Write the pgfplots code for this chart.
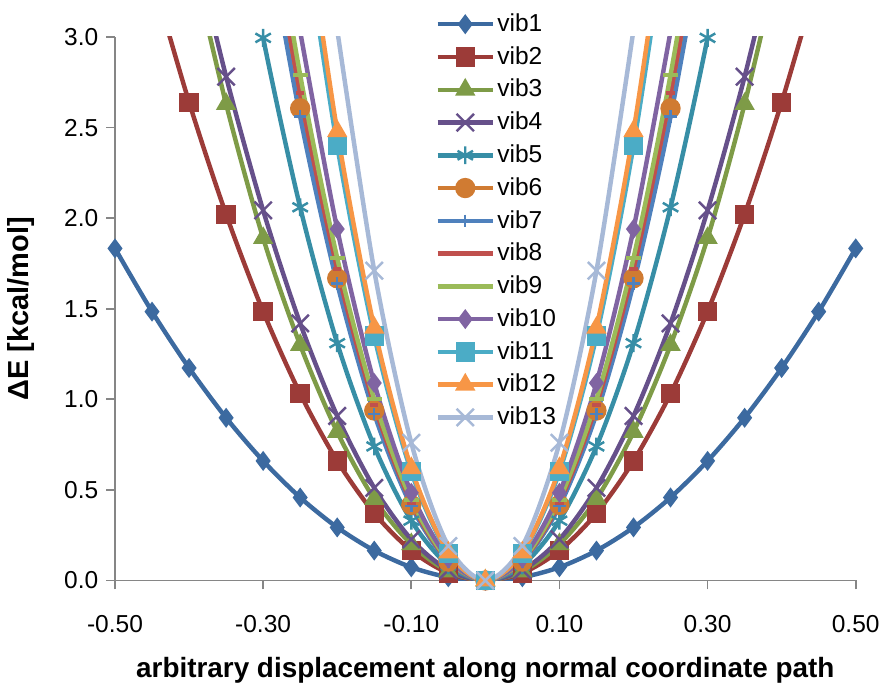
\documentclass[border=0pt]{standalone}
\usepackage{fontspec}
\setmainfont{Liberation Sans}
\usepackage{pgfplots}
\pgfplotsset{compat=1.18}

\definecolor{axgray}{HTML}{868686}
\definecolor{v1}{HTML}{3C6AA0}
\definecolor{v2}{HTML}{9C3B38}
\definecolor{v3}{HTML}{7E9B47}
\definecolor{v4}{HTML}{66508A}
\definecolor{v5}{HTML}{378EA6}
\definecolor{v6}{HTML}{D07B32}
\definecolor{v7}{HTML}{4F81BD}
\definecolor{v8}{HTML}{C0504D}
\definecolor{v9}{HTML}{9BBB59}
\definecolor{v10}{HTML}{8064A2}
\definecolor{v11}{HTML}{4BACC6}
\definecolor{v12}{HTML}{F79646}
\definecolor{v13}{HTML}{A7B9D7}

\pgfplotsset{
  vib/.style={color=#1, line width=2pt, smooth, mark options={solid, line width=1.1pt}},
}

\begin{document}
\begin{tikzpicture}
\begin{axis}[
    name=ax,
    scale only axis,
    width=11.68cm, height=8.57cm,
    xmin=-0.5, xmax=0.5, ymin=0, ymax=3,
    axis x line=bottom, axis y line=left,
    axis line style={draw=axgray, line width=0.8pt, -},
    tick style={draw=axgray, line width=0.8pt},
    tick align=outside, major tick length=4pt,
    xtick={-0.5,-0.3,-0.1,0.1,0.3,0.5},
    ytick={0,0.5,1,1.5,2,2.5,3},
    /pgf/number format/assume math mode=true,
    xticklabel style={font=\fontsize{11}{13}\selectfont, yshift=-8pt, /pgf/number format/.cd, fixed, fixed zerofill, precision=2},
    yticklabel style={font=\fontsize{11}{13}\selectfont, /pgf/number format/.cd, fixed, fixed zerofill, precision=1},
    xlabel={arbitrary displacement along normal coordinate path},
    ylabel={ΔE [kcal/mol]},
    every axis x label/.style={at={(axis description cs:0.5,-0.166)}, anchor=center, font=\bfseries\fontsize{12.5}{14}\selectfont},
    every axis y label/.style={at={(axis description cs:-0.127,0.5)}, anchor=center, rotate=90, font=\bfseries\fontsize{13}{15}\selectfont},
    legend style={at={(axis description cs:0.432,1.052)}, anchor=north west, draw=none, fill=none,
      inner sep=0pt, row sep=1.2pt, font=\fontsize{11}{13}\selectfont,
      nodes={inner sep=1pt, text height=9pt, text depth=2.5pt}},
    legend cell align=left,
    legend image code/.code={\draw[mark repeat=2, mark phase=2] plot coordinates {(0cm,0cm) (0.435cm,0cm) (0.87cm,0cm)};},
]
\addplot[vib=v1, mark=diamond*, mark size=3.6pt] coordinates {
(-0.50,1.833)(-0.45,1.484)(-0.40,1.173)(-0.35,0.898)(-0.30,0.660)(-0.25,0.458)(-0.20,0.293)(-0.15,0.165)(-0.10,0.073)(-0.05,0.018)(0,0)
(0.05,0.018)(0.10,0.073)(0.15,0.165)(0.20,0.293)(0.25,0.458)(0.30,0.660)(0.35,0.898)(0.40,1.173)(0.45,1.484)(0.50,1.833)};
\addlegendentry{vib1}
\addplot[vib=v2, mark=square*, mark size=3.8pt] coordinates {
(-0.45,3.341)(-0.40,2.640)(-0.35,2.021)(-0.30,1.485)(-0.25,1.031)(-0.20,0.660)(-0.15,0.371)(-0.10,0.165)(-0.05,0.041)(0,0)
(0.05,0.041)(0.10,0.165)(0.15,0.371)(0.20,0.660)(0.25,1.031)(0.30,1.485)(0.35,2.021)(0.40,2.640)(0.45,3.341)};
\addlegendentry{vib2}
\addplot[vib=v3, mark=triangle*, mark size=4.2pt] coordinates {
(-0.40,3.50)(-0.35,2.63)(-0.30,1.89)(-0.25,1.30)(-0.20,0.82)(-0.15,0.45)(-0.10,0.20)(-0.05,0.05)(0,0)
(0.05,0.05)(0.10,0.20)(0.15,0.45)(0.20,0.82)(0.25,1.30)(0.30,1.89)(0.35,2.63)(0.40,3.50)};
\addlegendentry{vib3}
\addplot[vib=v4, mark=x, mark size=5.5pt] coordinates {
(-0.40,3.632)(-0.35,2.781)(-0.30,2.043)(-0.25,1.419)(-0.20,0.908)(-0.15,0.511)(-0.10,0.227)(-0.05,0.057)(0,0)
(0.05,0.057)(0.10,0.227)(0.15,0.511)(0.20,0.908)(0.25,1.419)(0.30,2.043)(0.35,2.781)(0.40,3.632)};
\addlegendentry{vib4}
\addplot[vib=v5, mark=asterisk, mark size=4pt] coordinates {
(-0.35,4.08)(-0.30,2.995)(-0.25,2.06)(-0.20,1.31)(-0.15,0.74)(-0.10,0.33)(-0.05,0.083)(0,0)
(0.05,0.083)(0.10,0.33)(0.15,0.74)(0.20,1.31)(0.25,2.06)(0.30,2.995)(0.35,4.08)};
\addlegendentry{vib5}
\addplot[vib=v6, mark=*, mark size=4pt] coordinates {
(-0.30,3.753)(-0.25,2.606)(-0.20,1.668)(-0.15,0.938)(-0.10,0.417)(-0.05,0.104)(0,0)
(0.05,0.104)(0.10,0.417)(0.15,0.938)(0.20,1.668)(0.25,2.606)(0.30,3.753)};
\addlegendentry{vib6}
\addplot[vib=v7, mark=+, mark size=2.8pt] coordinates {
(-0.30,3.69)(-0.25,2.56)(-0.20,1.64)(-0.15,0.92)(-0.10,0.41)(-0.05,0.103)(0,0)
(0.05,0.103)(0.10,0.41)(0.15,0.92)(0.20,1.64)(0.25,2.56)(0.30,3.69)};
\addlegendentry{vib7}
\addplot[vib=v8, mark=-, mark size=1.9pt, mark options={line width=1.8pt}] coordinates {
(-0.30,3.87)(-0.25,2.69)(-0.20,1.72)(-0.15,0.968)(-0.10,0.43)(-0.05,0.108)(0,0)
(0.05,0.108)(0.10,0.43)(0.15,0.968)(0.20,1.72)(0.25,2.69)(0.30,3.87)};
\addlegendentry{vib8}
\addplot[vib=v9, mark=-, mark size=3.3pt, mark options={line width=1.8pt}] coordinates {
(-0.30,4.01)(-0.25,2.79)(-0.20,1.78)(-0.15,1.00)(-0.10,0.446)(-0.05,0.112)(0,0)
(0.05,0.112)(0.10,0.446)(0.15,1.00)(0.20,1.78)(0.25,2.79)(0.30,4.01)};
\addlegendentry{vib9}
\addplot[vib=v10, mark=diamond*, mark size=3.6pt] coordinates {
(-0.25,3.03)(-0.20,1.94)(-0.15,1.09)(-0.10,0.484)(-0.05,0.121)(0,0)
(0.05,0.121)(0.10,0.484)(0.15,1.09)(0.20,1.94)(0.25,3.03)};
\addlegendentry{vib10}
\addplot[vib=v11, mark=square*, mark size=3.8pt] coordinates {
(-0.25,3.75)(-0.20,2.40)(-0.15,1.35)(-0.10,0.60)(-0.05,0.15)(0,0)
(0.05,0.15)(0.10,0.60)(0.15,1.35)(0.20,2.40)(0.25,3.75)};
\addlegendentry{vib11}
\addplot[vib=v12, mark=triangle*, mark size=4.2pt] coordinates {
(-0.25,3.875)(-0.20,2.48)(-0.15,1.395)(-0.10,0.62)(-0.05,0.155)(0,0)
(0.05,0.155)(0.10,0.62)(0.15,1.395)(0.20,2.48)(0.25,3.875)};
\addlegendentry{vib12}
\addplot[vib=v13, mark=x, mark size=5.5pt] coordinates {
(-0.20,3.04)(-0.15,1.71)(-0.10,0.76)(-0.05,0.19)(0,0)
(0.05,0.19)(0.10,0.76)(0.15,1.71)(0.20,3.04)};
\addlegendentry{vib13}
\end{axis}
\path (ax.north) ++(0,16.6pt);
\end{tikzpicture}
\end{document}
